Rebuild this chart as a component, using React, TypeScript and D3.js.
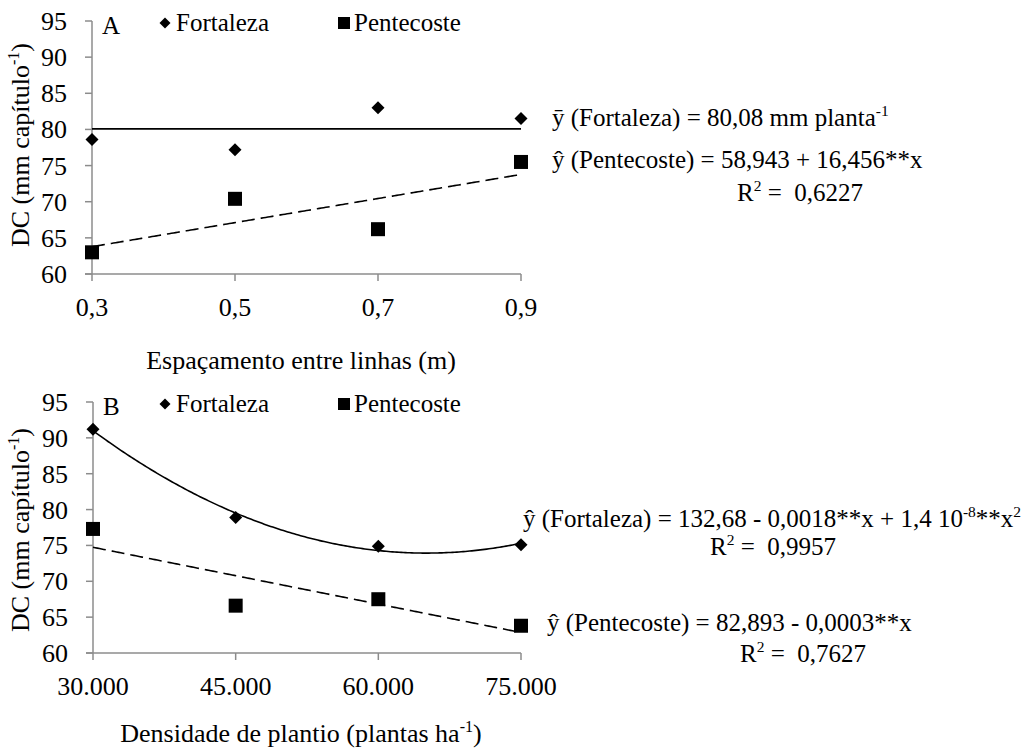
import React from "react";
import * as d3 from "d3";

// Panel A: spacing between rows (m)
const spacing = [0.3, 0.5, 0.7, 0.9];
const fortalezaA = [78.6, 77.2, 83.0, 81.5];
const pentecosteA = [63.0, 70.4, 66.2, 75.5];

// Panel B: planting density (plants/ha)
const density = [30000, 45000, 60000, 75000];
const fortalezaB = [91.2, 78.9, 74.9, 75.1];
const pentecosteB = [77.3, 66.6, 67.5, 63.8];

const yTicks = [60, 65, 70, 75, 80, 85, 90, 95];
const seriesNames = ["Fortaleza", "Pentecoste"];

const FONT = "'Liberation Serif', 'Times New Roman', serif";
const FS = 25;
const TICK_FS = 26;
const TITLE_FS = 26;
const AXIS = "#8c8c8c";

const ptLocale = d3.formatLocale({
  decimal: ",",
  thousands: ".",
  grouping: [3],
  currency: ["", ""],
});
const fmtSpacing = ptLocale.format(".1f");
const fmtDensity = ptLocale.format(",.0f");

function linearFit(xs: number[], ys: number[]) {
  const mx = d3.mean(xs)!;
  const my = d3.mean(ys)!;
  let sxy = 0;
  let sxx = 0;
  xs.forEach((x, i) => {
    sxy += (x - mx) * (ys[i] - my);
    sxx += (x - mx) * (x - mx);
  });
  const b = sxy / sxx;
  const a = my - b * mx;
  return (x: number) => a + b * x;
}

function quadFit(xs: number[], ys: number[]) {
  // centred / scaled abscissa keeps the normal equations well conditioned
  const mx = d3.mean(xs)!;
  const sx = d3.deviation(xs)!;
  const u = xs.map((x) => (x - mx) / sx);
  const S = (p: number) => d3.sum(u, (v) => Math.pow(v, p));
  const T = (p: number) => d3.sum(u, (v, i) => Math.pow(v, p) * ys[i]);
  const M = [
    [u.length, S(1), S(2), T(0)],
    [S(1), S(2), S(3), T(1)],
    [S(2), S(3), S(4), T(2)],
  ];
  for (let c = 0; c < 3; c++) {
    for (let r = c + 1; r < 3; r++) {
      const f = M[r][c] / M[c][c];
      for (let k = c; k < 4; k++) M[r][k] -= f * M[c][k];
    }
  }
  const coef = [0, 0, 0];
  for (let r = 2; r >= 0; r--) {
    let s = M[r][3];
    for (let k = r + 1; k < 3; k++) s -= M[r][k] * coef[k];
    coef[r] = s / M[r][r];
  }
  return (x: number) => {
    const v = (x - mx) / sx;
    return coef[0] + coef[1] * v + coef[2] * v * v;
  };
}

const diamondPath = (cx: number, cy: number, r: number) =>
  `M${cx},${cy - r}L${cx + r},${cy}L${cx},${cy + r}L${cx - r},${cy}Z`;

type TProps = {
  x: number;
  y: number;
  anchor?: "start" | "middle" | "end";
  size?: number;
  rotate?: boolean;
  children: React.ReactNode;
};

function Txt({ x, y, anchor = "start", size = FS, rotate, children }: TProps) {
  return (
    <text
      x={rotate ? 0 : x}
      y={rotate ? 0 : y}
      transform={rotate ? `translate(${x},${y}) rotate(-90)` : undefined}
      textAnchor={anchor}
      fontFamily={FONT}
      fontSize={size}
      fill="#000"
      style={{ whiteSpace: "pre" }}
    >
      {children}
    </text>
  );
}

const Sup = ({ children, size = FS }: { children: React.ReactNode; size?: number }) => (
  <tspan fontSize={size * 0.62} dy={-size * 0.4}>
    {children}
  </tspan>
);
const Down = ({ children, size = FS }: { children: React.ReactNode; size?: number }) => (
  <tspan dy={size * 0.4}>{children}</tspan>
);

type PanelProps = {
  letter: string;
  xs: number[];
  fort: number[];
  pent: number[];
  x: d3.ScaleLinear<number, number>;
  y: d3.ScaleLinear<number, number>;
  fmt: (n: number) => string;
  fortCurve: (v: number) => number;
  pentCurve: (v: number) => number;
  title: React.ReactNode;
  titleY: number;
  yTitleY: number;
  legendY: number;
};

function Panel(p: PanelProps) {
  const { x, y, xs } = p;
  const x0 = x.range()[0];
  const x1 = x.range()[1];
  const yBottom = y(60);
  const yTop = y(95);
  const [dMin, dMax] = x.domain();
  const samples = d3.range(0, 201).map((i) => dMin + ((dMax - dMin) * i) / 200);
  const fortPath = d3
    .line<number>()
    .x((v) => x(v))
    .y((v) => y(p.fortCurve(v)))(samples);
  const pentPath = d3
    .line<number>()
    .x((v) => x(v))
    .y((v) => y(p.pentCurve(v)))(samples);
  return (
    <g>
      {/* axes */}
      <line x1={x0} x2={x0} y1={yTop} y2={yBottom} stroke={AXIS} strokeWidth={1.5} />
      <line x1={x0 - 7} x2={x1} y1={yBottom} y2={yBottom} stroke={AXIS} strokeWidth={1.5} />
      {yTicks.map((t) => (
        <g key={t}>
          <line x1={x0 - 7} x2={x0} y1={y(t)} y2={y(t)} stroke={AXIS} strokeWidth={1.5} />
          <Txt x={x0 - 25} y={y(t) + 9} anchor="end" size={TICK_FS}>
            {t}
          </Txt>
        </g>
      ))}
      {xs.map((t) => (
        <g key={t}>
          <line x1={x(t)} x2={x(t)} y1={yBottom} y2={yBottom + 7} stroke={AXIS} strokeWidth={1.5} />
          <Txt x={x(t)} y={yBottom + 42} anchor="middle" size={TICK_FS}>
            {p.fmt(t)}
          </Txt>
        </g>
      ))}

      {/* trend lines */}
      <path d={fortPath ?? ""} fill="none" stroke="#000" strokeWidth={1.6} />
      <path d={pentPath ?? ""} fill="none" stroke="#000" strokeWidth={1.6} strokeDasharray="13,6" />

      {/* observations */}
      {xs.map((v, i) => (
        <path key={"f" + v} d={diamondPath(x(v), y(p.fort[i]), 6.5)} fill="#000" />
      ))}
      {xs.map((v, i) => (
        <rect key={"p" + v} x={x(v) - 7} y={y(p.pent[i]) - 7} width={14} height={14} fill="#000" />
      ))}

      {/* panel letter and legend */}
      <Txt x={x0 + 10} y={yTop + 13}>{p.letter}</Txt>
      <path d={diamondPath(165, p.legendY - 8, 5.5)} fill="#000" />
      <Txt x={176} y={p.legendY}>{seriesNames[0]}</Txt>
      <rect x={338} y={p.legendY - 14} width={12} height={12} fill="#000" />
      <Txt x={354} y={p.legendY}>{seriesNames[1]}</Txt>

      {/* axis titles */}
      <Txt x={29} y={p.yTitleY} anchor="middle" size={TITLE_FS} rotate>
        DC (mm capítulo<Sup size={TITLE_FS}>-1</Sup>
        <Down size={TITLE_FS}>)</Down>
      </Txt>
      <Txt x={301} y={p.titleY} anchor="middle" size={TITLE_FS}>
        {p.title}
      </Txt>
    </g>
  );
}

export default function App() {
  const xA = d3.scaleLinear().domain([0.3, 0.9]).range([92, 521]);
  const yA = d3.scaleLinear().domain([60, 95]).range([274, 21]);
  const xB = d3.scaleLinear().domain([30000, 75000]).range([93, 521]);
  const yB = d3.scaleLinear().domain([60, 95]).range([653, 402]);

  const meanA = d3.mean(fortalezaA)!;
  const fitPentA = linearFit(spacing, pentecosteA);
  const fitFortB = quadFit(density, fortalezaB);
  const fitPentB = linearFit(density, pentecosteB);

  return (
    <svg
      width={1033}
      height={754}
      style={{ position: "absolute", left: 0, top: 0, background: "#fff" }}
    >
      <rect width={1033} height={754} fill="#fff" />
      <Panel
        letter="A"
        xs={spacing}
        fort={fortalezaA}
        pent={pentecosteA}
        x={xA}
        y={yA}
        fmt={fmtSpacing}
        fortCurve={() => meanA}
        pentCurve={fitPentA}
        title="Espaçamento entre linhas (m)"
        titleY={369}
        yTitleY={145}
        legendY={31}
      />
      <Panel
        letter="B"
        xs={density}
        fort={fortalezaB}
        pent={pentecosteB}
        x={xB}
        y={yB}
        fmt={fmtDensity}
        fortCurve={fitFortB}
        pentCurve={fitPentB}
        title={
          <>
            Densidade de plantio (plantas ha<Sup size={TITLE_FS}>-1</Sup>
            <Down size={TITLE_FS}>)</Down>
          </>
        }
        titleY={742}
        yTitleY={530}
        legendY={412}
      />

      {/* regression equations, panel A */}
      <Txt x={552} y={126}>
        ȳ (Fortaleza) = 80,08 mm planta<Sup>-1</Sup>
      </Txt>
      <Txt x={552} y={168}>
        ŷ (Pentecoste) = 58,943 + 16,456**x
      </Txt>
      <Txt x={737} y={201}>
        R<Sup>2</Sup>
        <Down>{" =  0,6227"}</Down>
      </Txt>

      {/* regression equations, panel B */}
      <Txt x={523} y={527}>
        ŷ (Fortaleza) = 132,68 - 0,0018**x + 1,4 10<Sup>-8</Sup>
        <Down>**x</Down>
        <Sup>2</Sup>
      </Txt>
      <Txt x={710} y={555}>
        R<Sup>2</Sup>
        <Down>{" =  0,9957"}</Down>
      </Txt>
      <Txt x={547} y={631}>
        ŷ (Pentecoste) = 82,893 - 0,0003**x
      </Txt>
      <Txt x={740} y={662}>
        R<Sup>2</Sup>
        <Down>{" =  0,7627"}</Down>
      </Txt>
    </svg>
  );
}
